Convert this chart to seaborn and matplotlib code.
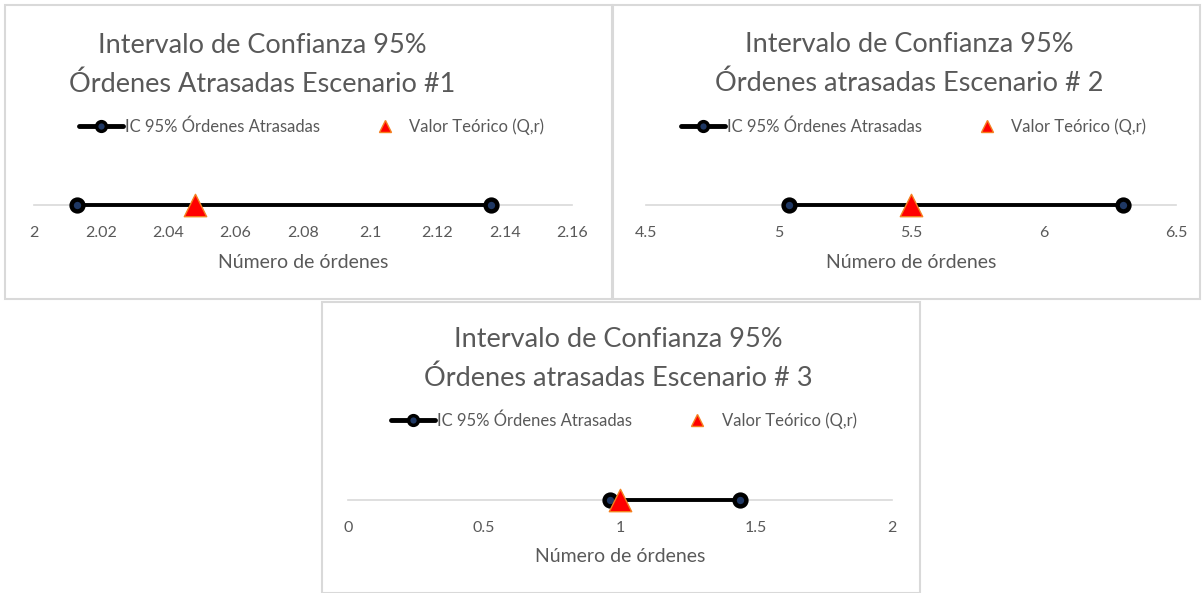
import matplotlib
matplotlib.use('Agg')
import matplotlib.pyplot as plt
import seaborn as sns
import pandas as pd
from matplotlib.patches import Rectangle
from matplotlib.lines import Line2D

# Datos
escenarios = ['Escenario 1', 'Escenario 2', 'Escenario 3']
ic_inferior = [2.013, 5.04, 0.963]
ic_superior = [2.136, 6.30, 1.441]
valor_teorico = [2.048, 5.5, 1.0]
titulos = [
    'Intervalo de Confianza 95%\nÓrdenes Atrasadas Escenario #1',
    'Intervalo de Confianza 95%\nÓrdenes atrasadas Escenario # 2',
    'Intervalo de Confianza 95%\nÓrdenes atrasadas Escenario # 3',
]
ticks_x = [
    [2, 2.02, 2.04, 2.06, 2.08, 2.1, 2.12, 2.14, 2.16],
    [4.5, 5, 5.5, 6, 6.5],
    [0, 0.5, 1, 1.5, 2],
]
tick_labels = [
    ['2', '2.02', '2.04', '2.06', '2.08', '2.1', '2.12', '2.14', '2.16'],
    ['4.5', '5', '5.5', '6', '6.5'],
    ['0', '0.5', '1', '1.5', '2'],
]

sns.set_theme(style='white')
plt.rcParams['font.family'] = ['Lato', 'DejaVu Sans']

W, H = 1204, 593
GRIS = '#595959'
fig = plt.figure(figsize=(W / 100, H / 100), dpi=100)


def fx(x):
    return x / W


def fy(y):
    return 1 - y / H


# posiciones en pixeles de cada panel
layout = [
    dict(box=(5, 5, 612, 299), eje=(33.7, 572, 205), titulo=(262, 65), leyenda=(312, 127), xlab=262),
    dict(box=(613, 5, 1200, 299), eje=(646, 1176, 205), titulo=(909, 64), leyenda=(914, 127), xlab=262),
    dict(box=(322, 302, 920, 593), eje=(348, 892, 500), titulo=(618, 359), leyenda=(624, 421), xlab=557),
]

for i, lay in enumerate(layout):
    x0, y0, x1, y1 = lay['box']
    fig.add_artist(Rectangle((fx(x0), fy(y1)), fx(x1) - fx(x0), fy(y0) - fy(y1),
                             transform=fig.transFigure, fill=False, ec='#d9d9d9', lw=1.5))

    ax0, ax1, yl = lay['eje']
    ax = fig.add_axes([fx(ax0), fy(yl), fx(ax1) - fx(ax0), 20 / H])
    ax.set_facecolor('none')

    df = pd.DataFrame({'x': [ic_inferior[i], ic_superior[i]], 'y': [0, 0]})
    sns.lineplot(data=df, x='x', y='y', ax=ax, color='black', lw=2.8, marker='o',
                 markersize=8.5, markerfacecolor='#1f3864', markeredgecolor='black',
                 markeredgewidth=3.2, clip_on=False, zorder=4, estimator=None)
    sns.scatterplot(x=[valor_teorico[i]], y=[0], ax=ax, marker='^', s=260,
                    color='#ff0000', edgecolor='#f4801f', linewidth=1,
                    clip_on=False, zorder=5)

    ax.set_xlim(ticks_x[i][0], ticks_x[i][-1])
    ax.set_ylim(0, 1)
    ax.set_xticks(ticks_x[i])
    ax.set_xticklabels(tick_labels[i])
    ax.set_yticks([])
    ax.set_ylabel('')
    for s in ['left', 'top', 'right']:
        ax.spines[s].set_visible(False)
    ax.spines['bottom'].set_color('#d9d9d9')
    ax.spines['bottom'].set_linewidth(1.2)
    ax.tick_params(axis='x', length=0, pad=15, labelsize=11.5, labelcolor=GRIS)
    ax.set_xlabel('')

    fig.text(fx((ax0 + ax1) / 2), fy(lay['xlab']), 'Número de órdenes',
             ha='center', va='center', fontsize=14, color=GRIS)

    tx, ty = lay['titulo']
    fig.text(fx(tx), fy(ty), titulos[i], ha='center', va='center', fontsize=19.5,
             color=GRIS, linespacing=1.62)

    handles = [
        Line2D([], [], color='black', lw=3.5, marker='o', markersize=7,
               markerfacecolor='#1f3864', markeredgecolor='black', markeredgewidth=2.5),
        Line2D([], [], ls='none', marker='^', markersize=9,
               markerfacecolor='#ff0000', markeredgecolor='#f4801f'),
    ]
    lx, ly = lay['leyenda']
    leg = ax.legend(handles, ['IC 95% Órdenes Atrasadas', 'Valor Teórico (Q,r)'],
                    loc='center', bbox_to_anchor=(fx(lx), fy(ly)),
                    bbox_transform=fig.transFigure, ncol=2, frameon=False,
                    fontsize=12, handlelength=2.6, handletextpad=0.15,
                    columnspacing=2.6)
    for t in leg.get_texts():
        t.set_color(GRIS)

fig.savefig('out.png', dpi=100)
